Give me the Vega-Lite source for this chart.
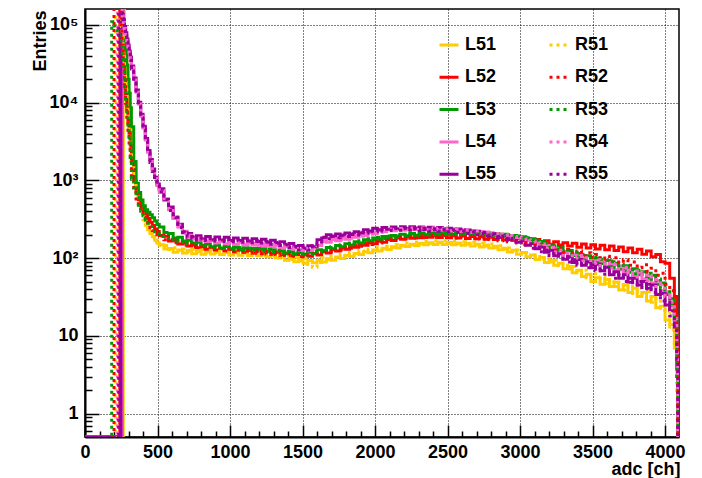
{
"$schema": "https://vega.github.io/schema/vega-lite/v6.json",
"width": 594, "height": 428,
"autosize": {"type": "none"},
"padding": {"left": 85, "top": 9, "right": 23, "bottom": 41},
"background": "white",
"config": {"view": {"stroke": "#000", "strokeWidth": 1.5}, "font": "Liberation Sans"},
"data": {"values": [
{"x":0,"L51":0.5,"L52":0.5,"L53":0.5,"L54":0.5,"L55":0.5,"R51":0.5,"R52":0.5,"R53":0.5,"R54":0.5,"R55":0.5},
{"x":184,"L51":0.5,"L52":0.5,"L53":0.5,"L54":0.5,"L55":0.5,"R51":0.5,"R52":0.5,"R53":110000,"R54":0.5,"R55":0.5},
{"x":192,"L51":0.5,"L52":0.5,"L53":0.5,"L54":0.5,"L55":0.5,"R51":0.5,"R52":0.5,"R53":104000,"R54":0.5,"R55":0.5},
{"x":200,"L51":0.5,"L52":0.5,"L53":0.5,"L54":0.5,"L55":0.5,"R51":0.5,"R52":210000,"R53":97000,"R54":0.5,"R55":0.5},
{"x":208,"L51":0.5,"L52":0.5,"L53":0.5,"L54":0.5,"L55":0.5,"R51":125000,"R52":205000,"R53":92000,"R54":0.5,"R55":0.5},
{"x":216,"L51":0.5,"L52":0.5,"L53":0.5,"L54":0.5,"L55":0.5,"R51":122000,"R52":200000,"R53":88000,"R54":0.5,"R55":0.5},
{"x":224,"L51":0.5,"L52":0.5,"L53":0.5,"L54":0.5,"L55":0.5,"R51":118000,"R52":190000,"R53":84000,"R54":260000,"R55":0.5},
{"x":232,"L51":0.5,"L52":0.5,"L53":0.5,"L54":0.5,"L55":0.5,"R51":114000,"R52":175000,"R53":78000,"R54":250000,"R55":220000},
{"x":240,"L51":0.5,"L52":260000,"L53":0.5,"L54":0.5,"L55":0.5,"R51":108000,"R52":150000,"R53":70000,"R54":240000,"R55":210000},
{"x":248,"L51":0.5,"L52":140000,"L53":0.5,"L54":0.5,"L55":300000,"R51":95000,"R52":100000,"R53":56000,"R54":220000,"R55":200000},
{"x":256,"L51":0.5,"L52":68000,"L53":175000,"L54":240000,"L55":137000,"R51":72000,"R52":55000,"R53":39000,"R54":130000,"R55":128000},
{"x":264,"L51":250000,"L52":37000,"L53":118000,"L54":110000,"L55":113000,"R51":44000,"R52":30000,"R53":25500,"R54":107000,"R55":104000},
{"x":272,"L51":95000,"L52":20500,"L53":74000,"L54":92000,"L55":95000,"R51":25000,"R52":16500,"R53":16000,"R54":90000,"R55":87000},
{"x":280,"L51":46000,"L52":12800,"L53":47000,"L54":77000,"L55":79000,"R51":14500,"R52":9800,"R53":10500,"R54":75000,"R55":72000},
{"x":288,"L51":24500,"L52":8600,"L53":30500,"L54":64000,"L55":66000,"R51":8700,"R52":6100,"R53":7000,"R54":62000,"R55":60000},
{"x":296,"L51":14200,"L52":5900,"L53":20000,"L54":53000,"L55":55000,"R51":5300,"R52":4000,"R53":4600,"R54":52000,"R55":50000},
{"x":304,"L51":8600,"L52":4100,"L53":13200,"L54":44500,"L55":46000,"R51":3500,"R52":2700,"R53":3100,"R54":43000,"R55":42000},
{"x":312,"L51":5600,"L52":2850,"L53":8600,"L54":37000,"L55":38700,"R51":2350,"R52":1800,"R53":1750,"R54":36000,"R55":35000},
{"x":320,"L51":3100,"L52":1750,"L53":4900,"L54":28500,"L55":29600,"R51":1450,"R52":1120,"R53":1050,"R54":28000,"R55":27000},
{"x":336,"L51":1550,"L52":980,"L53":1750,"L54":20000,"L55":20700,"R51":860,"R52":710,"R53":800,"R54":19500,"R55":19000},
{"x":352,"L51":920,"L52":720,"L53":920,"L54":14000,"L55":14500,"R51":610,"R52":545,"R53":600,"R54":13600,"R55":13200},
{"x":368,"L51":630,"L52":565,"L53":700,"L54":9800,"L55":10100,"R51":465,"R52":445,"R53":480,"R54":9600,"R55":9200},
{"x":384,"L51":465,"L52":470,"L53":560,"L54":6900,"L55":7100,"R51":375,"R52":380,"R53":400,"R54":6700,"R55":6500},
{"x":400,"L51":365,"L52":410,"L53":470,"L54":4800,"L55":4950,"R51":312,"R52":338,"R53":350,"R54":4700,"R55":4500},
{"x":416,"L51":300,"L52":375,"L53":420,"L54":3350,"L55":3450,"R51":265,"R52":300,"R53":310,"R54":3300,"R55":3150},
{"x":432,"L51":250,"L52":322,"L53":390,"L54":2350,"L55":2420,"R51":232,"R52":272,"R53":280,"R54":2300,"R55":2200},
{"x":448,"L51":215,"L52":290,"L53":360,"L54":1800,"L55":1850,"R51":207,"R52":246,"R53":255,"R54":1750,"R55":1700},
{"x":464,"L51":190,"L52":262,"L53":330,"L54":1380,"L55":1400,"R51":186,"R52":226,"R53":236,"R54":1350,"R55":1300},
{"x":480,"L51":170,"L52":236,"L53":300,"L54":1080,"L55":1100,"R51":171,"R52":211,"R53":219,"R54":1060,"R55":1020},
{"x":496,"L51":156,"L52":220,"L53":270,"L54":880,"L55":900,"R51":159,"R52":199,"R53":206,"R54":860,"R55":830},
{"x":512,"L51":148,"L52":196,"L53":251,"L54":700,"L55":782,"R51":146,"R52":193,"R53":190,"R54":742,"R55":715},
{"x":544,"L51":131,"L52":191,"L53":214,"L54":575,"L55":561,"R51":145,"R52":172,"R53":189,"R54":548,"R55":570},
{"x":576,"L51":133,"L52":166,"L53":207,"L54":418,"L55":455,"R51":129,"R52":173,"R53":171,"R54":441,"R55":410},
{"x":608,"L51":119,"L52":170,"L53":181,"L54":338,"L55":329,"R51":136,"R52":158,"R53":176,"R54":322,"R55":335},
{"x":640,"L51":127,"L52":152,"L53":185,"L54":252,"L55":273,"R51":124,"R52":162,"R53":160,"R54":267,"R55":248},
{"x":672,"L51":116,"L52":157,"L53":166,"L54":221,"L55":212,"R51":131,"R52":147,"R53":166,"R54":209,"R55":218},
{"x":704,"L51":125,"L52":143,"L53":170,"L54":186,"L55":207,"R51":121,"R52":153,"R53":152,"R54":197,"R55":186},
{"x":736,"L51":114,"L52":149,"L53":155,"L54":188,"L55":183,"R51":129,"R52":139,"R53":165,"R54":176,"R55":189},
{"x":768,"L51":122,"L52":136,"L53":160,"L54":170,"L55":194,"R51":119,"R52":145,"R53":150,"R54":181,"R55":172},
{"x":800,"L51":112,"L52":141,"L53":146,"L54":177,"L55":176,"R51":127,"R52":132,"R53":155,"R54":166,"R55":183},
{"x":832,"L51":121,"L52":130,"L53":152,"L54":163,"L55":189,"R51":117,"R52":139,"R53":142,"R54":172,"R55":168},
{"x":864,"L51":113,"L52":136,"L53":140,"L54":170,"L55":172,"R51":126,"R52":128,"R53":149,"R54":161,"R55":179},
{"x":896,"L51":119,"L52":127,"L53":146,"L54":157,"L55":187,"R51":116,"R52":134,"R53":137,"R54":167,"R55":166},
{"x":928,"L51":111,"L52":132,"L53":135,"L54":165,"L55":171,"R51":125,"R52":124,"R53":143,"R54":155,"R55":177},
{"x":960,"L51":118,"L52":123,"L53":141,"L54":153,"L55":185,"R51":115,"R52":131,"R53":133,"R54":163,"R55":164},
{"x":992,"L51":110,"L52":129,"L53":132,"L54":161,"L55":169,"R51":124,"R52":121,"R53":139,"R54":151,"R55":174},
{"x":1024,"L51":117,"L52":121,"L53":138,"L54":150,"L55":182,"R51":114,"R52":128,"R53":130,"R54":159,"R55":162},
{"x":1056,"L51":109,"L52":127,"L53":129,"L54":158,"L55":168,"R51":123,"R52":119,"R53":137,"R54":150,"R55":172},
{"x":1088,"L51":116,"L52":118,"L53":136,"L54":149,"L55":180,"R51":113,"R52":126,"R53":128,"R54":157,"R55":160},
{"x":1120,"L51":108,"L52":125,"L53":127,"L54":156,"L55":166,"R51":122,"R52":117,"R53":135,"R54":148,"R55":170},
{"x":1152,"L51":115,"L52":116,"L53":134,"L54":147,"L55":178,"R51":112,"R52":124,"R53":126,"R54":155,"R55":158},
{"x":1184,"L51":107,"L52":123,"L53":126,"L54":154,"L55":164,"R51":120,"R52":115,"R53":133,"R54":146,"R55":168},
{"x":1216,"L51":113,"L52":114,"L53":132,"L54":144,"L55":175,"R51":110,"R52":122,"R53":124,"R54":152,"R55":156},
{"x":1248,"L51":104,"L52":121,"L53":122,"L54":150,"L55":160,"R51":116,"R52":113,"R53":130,"R54":142,"R55":164},
{"x":1280,"L51":109,"L52":112,"L53":128,"L54":140,"L55":170,"R51":106,"R52":120,"R53":120,"R54":148,"R55":151},
{"x":1312,"L51":100,"L52":119,"L53":118,"L54":146,"L55":155,"R51":112,"R52":111,"R53":126,"R54":138,"R55":159},
{"x":1344,"L51":105,"L52":109,"L53":124,"L54":135,"L55":162,"R51":102,"R52":117,"R53":116,"R54":144,"R55":145},
{"x":1376,"L51":94,"L52":116,"L53":114,"L54":141,"L55":147,"R51":106,"R52":108,"R53":122,"R54":133,"R55":151},
{"x":1408,"L51":99,"L52":107,"L53":121,"L54":130,"L55":154,"R51":96,"R52":114,"R53":113,"R54":138,"R55":137},
{"x":1440,"L51":90,"L52":113,"L53":112,"L54":135,"L55":138,"R51":102,"R52":106,"R53":120,"R54":127,"R55":142},
{"x":1472,"L51":95,"L52":105,"L53":118,"L54":125,"L55":145,"R51":92,"R52":112,"R53":111,"R54":133,"R55":128},
{"x":1504,"L51":86,"L52":112,"L53":110,"L54":132,"L55":132,"R51":98,"R52":104,"R53":117,"R54":124,"R55":136},
{"x":1536,"L51":93,"L52":106,"L53":119,"L54":125,"L55":144,"R51":83,"R52":114,"R53":111,"R54":133,"R55":127},
{"x":1568,"L51":87,"L52":115,"L53":114,"L54":139,"L55":140,"R51":76,"R52":108,"R53":122,"R54":131,"R55":144},
{"x":1600,"L51":94,"L52":110,"L53":128,"L54":145,"L55":172,"R51":88,"R52":118,"R53":120,"R54":154,"R55":152},
{"x":1632,"L51":89,"L52":121,"L53":124,"L54":164,"L55":182,"R51":101,"R52":113,"R53":132,"R54":156,"R55":186},
{"x":1664,"L51":98,"L52":116,"L53":137,"L54":160,"L55":199,"R51":95,"R52":124,"R53":128,"R54":170,"R55":178},
{"x":1696,"L51":94,"L52":128,"L53":132,"L54":173,"L55":189,"R51":106,"R52":120,"R53":140,"R54":164,"R55":193},
{"x":1728,"L51":103,"L52":123,"L53":145,"L54":167,"L55":204,"R51":100,"R52":131,"R53":135,"R54":177,"R55":183},
{"x":1760,"L51":99,"L52":135,"L53":140,"L54":181,"L55":194,"R51":111,"R52":127,"R53":149,"R54":171,"R55":198},
{"x":1792,"L51":109,"L52":130,"L53":153,"L54":175,"L55":210,"R51":106,"R52":138,"R53":144,"R54":185,"R55":189},
{"x":1824,"L51":105,"L52":142,"L53":147,"L54":190,"L55":201,"R51":117,"R52":134,"R53":157,"R54":180,"R55":205},
{"x":1856,"L51":115,"L52":138,"L53":162,"L54":185,"L55":219,"R51":112,"R52":146,"R53":152,"R54":196,"R55":198},
{"x":1888,"L51":111,"L52":150,"L53":157,"L54":201,"L55":211,"R51":124,"R52":142,"R53":167,"R54":191,"R55":215},
{"x":1920,"L51":121,"L52":146,"L53":172,"L54":196,"L55":231,"R51":119,"R52":154,"R53":162,"R54":208,"R55":209},
{"x":1952,"L51":117,"L52":158,"L53":167,"L54":213,"L55":223,"R51":130,"R52":150,"R53":177,"R54":203,"R55":228},
{"x":1984,"L51":127,"L52":153,"L53":181,"L54":208,"L55":243,"R51":125,"R52":161,"R53":171,"R54":220,"R55":219},
{"x":2016,"L51":123,"L52":165,"L53":175,"L54":226,"L55":231,"R51":136,"R52":157,"R53":185,"R54":214,"R55":235},
{"x":2048,"L51":134,"L52":160,"L53":190,"L54":218,"L55":248,"R51":131,"R52":170,"R53":179,"R54":230,"R55":223},
{"x":2080,"L51":129,"L52":174,"L53":183,"L54":234,"L55":235,"R51":142,"R52":164,"R53":193,"R54":222,"R55":240},
{"x":2112,"L51":140,"L52":168,"L53":196,"L54":225,"L55":251,"R51":137,"R52":178,"R53":186,"R54":237,"R55":226},
{"x":2144,"L51":135,"L52":182,"L53":189,"L54":239,"L55":237,"R51":149,"R52":172,"R53":199,"R54":227,"R55":242},
{"x":2176,"L51":146,"L52":175,"L53":202,"L54":229,"L55":253,"R51":143,"R52":185,"R53":192,"R54":241,"R55":228},
{"x":2208,"L51":141,"L52":188,"L53":194,"L54":243,"L55":238,"R51":156,"R52":178,"R53":205,"R54":231,"R55":243},
{"x":2240,"L51":151,"L52":180,"L53":207,"L54":232,"L55":254,"R51":148,"R52":190,"R53":196,"R54":244,"R55":228},
{"x":2272,"L51":145,"L52":192,"L53":197,"L54":245,"L55":236,"R51":160,"R52":182,"R53":208,"R54":233,"R55":242},
{"x":2304,"L51":155,"L52":183,"L53":209,"L54":233,"L55":252,"R51":152,"R52":194,"R53":198,"R54":246,"R55":226},
{"x":2336,"L51":148,"L52":195,"L53":199,"L54":245,"L55":234,"R51":164,"R52":184,"R53":210,"R54":233,"R55":240},
{"x":2368,"L51":158,"L52":185,"L53":211,"L54":232,"L55":250,"R51":155,"R52":196,"R53":200,"R54":245,"R55":224},
{"x":2400,"L51":150,"L52":196,"L53":199,"L54":243,"L55":232,"R51":167,"R52":185,"R53":211,"R54":231,"R55":238},
{"x":2432,"L51":160,"L52":184,"L53":212,"L54":230,"L55":247,"R51":156,"R52":196,"R53":201,"R54":243,"R55":221},
{"x":2464,"L51":150,"L52":196,"L53":200,"L54":240,"L55":229,"R51":167,"R52":184,"R53":212,"R54":228,"R55":235},
{"x":2496,"L51":159,"L52":183,"L53":213,"L54":226,"L55":243,"R51":155,"R52":195,"R53":201,"R54":239,"R55":218},
{"x":2528,"L51":148,"L52":194,"L53":201,"L54":236,"L55":225,"R51":165,"R52":182,"R53":213,"R54":224,"R55":231},
{"x":2560,"L51":157,"L52":181,"L53":213,"L54":222,"L55":237,"R51":153,"R52":193,"R53":201,"R54":235,"R55":214},
{"x":2592,"L51":146,"L52":192,"L53":202,"L54":232,"L55":219,"R51":162,"R52":180,"R53":214,"R54":220,"R55":224},
{"x":2624,"L51":155,"L52":179,"L53":214,"L54":217,"L55":230,"R51":151,"R52":191,"R53":202,"R54":230,"R55":207},
{"x":2656,"L51":143,"L52":190,"L53":201,"L54":226,"L55":211,"R51":160,"R52":178,"R53":213,"R54":214,"R55":216},
{"x":2688,"L51":151,"L52":177,"L53":213,"L54":211,"L55":222,"R51":147,"R52":189,"R53":201,"R54":223,"R55":199},
{"x":2720,"L51":139,"L52":188,"L53":200,"L54":220,"L55":203,"R51":156,"R52":176,"R53":212,"R54":208,"R55":208},
{"x":2752,"L51":147,"L52":175,"L53":211,"L54":204,"L55":214,"R51":143,"R52":187,"R53":199,"R54":216,"R55":192},
{"x":2784,"L51":135,"L52":186,"L53":198,"L54":212,"L55":195,"R51":152,"R52":174,"R53":210,"R54":200,"R55":200},
{"x":2816,"L51":142,"L52":173,"L53":208,"L54":196,"L55":205,"R51":137,"R52":182,"R53":196,"R54":208,"R55":183},
{"x":2848,"L51":128,"L52":184,"L53":194,"L54":204,"L55":185,"R51":144,"R52":167,"R53":206,"R54":192,"R55":190},
{"x":2880,"L51":134,"L52":171,"L53":203,"L54":188,"L55":194,"R51":129,"R52":176,"R53":191,"R54":200,"R55":173},
{"x":2912,"L51":120,"L52":183,"L53":188,"L54":195,"L55":173,"R51":135,"R52":162,"R53":200,"R54":183,"R55":179},
{"x":2944,"L51":126,"L52":170,"L53":196,"L54":178,"L55":182,"R51":121,"R52":171,"R53":184,"R54":190,"R55":161},
{"x":2976,"L51":112,"L52":181,"L53":180,"L54":184,"L55":160,"R51":127,"R52":156,"R53":192,"R54":172,"R55":166},
{"x":3008,"L51":118,"L52":168,"L53":188,"L54":166,"L55":168,"R51":113,"R52":164,"R53":176,"R54":178,"R55":148},
{"x":3040,"L51":104,"L52":179,"L53":171,"L54":172,"L55":146,"R51":118,"R52":148,"R53":183,"R54":160,"R55":153},
{"x":3072,"L51":110,"L52":163,"L53":177,"L54":154,"L55":154,"R51":104,"R52":156,"R53":165,"R54":166,"R55":134},
{"x":3104,"L51":96,"L52":173,"L53":158,"L54":159,"L55":132,"R51":110,"R52":140,"R53":170,"R54":147,"R55":139},
{"x":3136,"L51":102,"L52":157,"L53":163,"L54":140,"L55":139,"R51":96,"R52":149,"R53":151,"R54":152,"R55":121},
{"x":3168,"L51":88,"L52":167,"L53":144,"L54":145,"L55":119,"R51":102,"R52":134,"R53":156,"R54":133,"R55":126},
{"x":3200,"L51":94,"L52":151,"L53":149,"L54":126,"L55":126,"R51":89,"R52":143,"R53":137,"R54":138,"R55":108},
{"x":3232,"L51":81,"L52":162,"L53":131,"L54":132,"L55":107,"R51":94,"R52":127,"R53":143,"R54":120,"R55":114},
{"x":3264,"L51":86,"L52":147,"L53":137,"L54":114,"L55":114,"R51":80,"R52":136,"R53":125,"R54":126,"R55":98},
{"x":3296,"L51":73,"L52":158,"L53":119,"L54":121,"L55":97,"R51":86,"R52":121,"R53":131,"R54":109,"R55":104},
{"x":3328,"L51":78,"L52":143,"L53":125,"L54":104,"L55":104,"R51":72,"R52":129,"R53":113,"R54":116,"R55":89},
{"x":3360,"L51":65,"L52":155,"L53":108,"L54":112,"L55":88,"R51":78,"R52":114,"R53":120,"R54":100,"R55":95},
{"x":3392,"L51":70,"L52":138,"L53":115,"L54":96,"L55":96,"R51":64,"R52":123,"R53":103,"R54":108,"R55":81},
{"x":3424,"L51":58,"L52":152,"L53":99,"L54":104,"L55":81,"R51":70,"R52":108,"R53":111,"R54":92,"R55":88},
{"x":3456,"L51":62,"L52":135,"L53":107,"L54":89,"L55":90,"R51":56,"R52":117,"R53":95,"R54":101,"R55":75},
{"x":3488,"L51":50,"L52":149,"L53":91,"L54":98,"L55":75,"R51":63,"R52":102,"R53":103,"R54":86,"R55":82},
{"x":3520,"L51":56,"L52":131,"L53":100,"L54":83,"L55":84,"R51":51,"R52":111,"R53":88,"R54":95,"R55":69},
{"x":3552,"L51":46,"L52":146,"L53":85,"L54":92,"L55":69,"R51":57,"R52":97,"R53":97,"R54":80,"R55":76},
{"x":3584,"L51":53,"L52":128,"L53":93,"L54":77,"L55":76,"R51":47,"R52":106,"R53":81,"R54":88,"R55":62},
{"x":3616,"L51":43,"L52":143,"L53":78,"L54":85,"L55":61,"R51":53,"R52":92,"R53":90,"R54":74,"R55":68},
{"x":3648,"L51":49,"L52":125,"L53":86,"L54":71,"L55":67,"R51":43,"R52":101,"R53":75,"R54":82,"R55":55},
{"x":3680,"L51":39,"L52":139,"L53":72,"L54":79,"L55":55,"R51":49,"R52":87,"R53":83,"R54":68,"R55":61},
{"x":3712,"L51":45,"L52":121,"L53":80,"L54":65,"L55":61,"R51":39,"R52":95,"R53":69,"R54":76,"R55":50},
{"x":3744,"L51":36,"L52":135,"L53":66,"L54":72,"L55":49,"R51":45,"R52":81,"R53":77,"R54":62,"R55":55},
{"x":3776,"L51":41,"L52":117,"L53":73,"L54":60,"L55":55,"R51":35,"R52":89,"R53":63,"R54":69,"R55":45},
{"x":3808,"L51":32,"L52":130,"L53":61,"L54":66,"L55":45,"R51":41,"R52":75,"R53":70,"R54":57,"R55":50},
{"x":3840,"L51":36,"L52":112,"L53":67,"L54":54,"L55":50,"R51":32,"R52":82,"R53":58,"R54":63,"R55":40},
{"x":3872,"L51":28,"L52":123,"L53":55,"L54":60,"L55":41,"R51":37,"R52":68,"R53":64,"R54":51,"R55":46},
{"x":3904,"L51":32,"L52":104,"L53":60,"L54":48,"L55":45,"R51":27,"R52":74,"R53":51,"R54":57,"R55":36},
{"x":3936,"L51":23,"L52":111,"L53":46,"L54":51,"L55":34,"R51":30,"R52":60,"R53":54,"R54":43,"R55":38},
{"x":3968,"L51":24,"L52":90,"L53":48,"L54":38,"L55":35,"R51":21,"R52":64,"R53":41,"R54":45,"R55":28},
{"x":4000,"L51":16,"L52":86,"L53":34,"L54":37,"L55":25,"R51":20,"R52":46,"R53":39,"R54":32,"R55":27},
{"x":4032,"L51":14,"L52":55,"L53":30,"L54":24,"L55":21,"R51":12,"R52":38,"R53":26,"R54":27,"R55":18},
{"x":4064,"L51":7,"L52":32,"L53":16,"L54":18,"L55":12,"R51":8,"R52":19,"R53":18,"R54":16,"R55":13},
{"x":4080,"L51":3,"L52":12,"L53":4,"L54":7,"L55":6,"R51":2,"R52":7,"R53":3,"R54":6,"R55":5},
{"x":4088,"L51":0.5,"L52":0.5,"L53":0.5,"L54":0.5,"L55":0.5,"R51":0.5,"R52":0.5,"R53":0.5,"R54":0.5,"R55":0.5},
{"x":4096,"L51":0.5,"L52":0.5,"L53":0.5,"L54":0.5,"L55":0.5,"R51":0.5,"R52":0.5,"R53":0.5,"R54":0.5,"R55":0.5}
]},
"transform": [{"fold": ["L51","L52","L53","L54","L55","R51","R52","R53","R54","R55"], "as": ["series","y"]}],
"mark": {"type": "line", "interpolate": "step-after", "strokeWidth": 3, "clip": true, "strokeCap": "butt"},
"encoding": {
  "x": {"field": "x", "type": "quantitative",
    "scale": {"domain": [0, 4096], "nice": false, "zero": false},
    "axis": {"values": [0,100,200,300,400,500,600,700,800,900,1000,1100,1200,1300,1400,1500,1600,1700,1800,1900,2000,2100,2200,2300,2400,2500,2600,2700,2800,2900,3000,3100,3200,3300,3400,3500,3600,3700,3800,3900,4000],
      "format": "d",
      "labelExpr": "datum.value % 500 == 0 ? datum.label : ''",
      "tickSize": {"condition": {"test": "datum.value % 500 == 0", "value": -12}, "value": -6},
      "tickColor": "#000", "tickWidth": 1.5,
      "grid": true, "gridColor": "#000", "gridDash": [1,2], "gridWidth": 1,
      "gridOpacity": {"condition": {"test": "datum.value % 500 == 0 && datum.value > 0", "value": 1}, "value": 0},
      "labelFont": "Liberation Sans", "labelFontSize": 18, "labelFontWeight": "bold", "labelColor": "#000",
      "labelPadding": 18, "labelFlush": false, "labelOverlap": false,
      "domainColor": "#000", "domainWidth": 2,
      "title": "adc [ch]", "titleFont": "Liberation Sans", "titleFontSize": 18, "titleFontWeight": "bold", "titleColor": "#000",
      "titleX": 595, "titleY": 37.5, "titleAlign": "right", "titleBaseline": "alphabetic"}},
  "y": {"field": "y", "type": "quantitative",
    "scale": {"type": "log", "domain": [0.5, 160000], "nice": false},
    "axis": {"values": [0.6,0.7,0.8,0.9,1,2,3,4,5,6,7,8,9,10,20,30,40,50,60,70,80,90,100,200,300,400,500,600,700,800,900,1000,2000,3000,4000,5000,6000,7000,8000,9000,10000,20000,30000,40000,50000,60000,70000,80000,90000,100000],
      "labelExpr": "datum.value == 1 ? '1' : datum.value == 10 ? '10' : datum.value == 100 ? '10²' : datum.value == 1000 ? '10³' : datum.value == 10000 ? '10⁴' : datum.value == 100000 ? '10⁵' : ''",
      "tickSize": {"condition": {"test": "indexof([1,10,100,1000,10000,100000], datum.value) >= 0", "value": -14}, "value": -7},
      "tickColor": "#000", "tickWidth": 1.5,
      "grid": true, "gridColor": "#000", "gridDash": [1,2], "gridWidth": 1,
      "gridOpacity": {"condition": {"test": "indexof([1,10,100,1000,10000,100000], datum.value) >= 0", "value": 1}, "value": 0},
      "labelFont": "Liberation Sans", "labelFontSize": 18, "labelFontWeight": "bold", "labelColor": "#000",
      "labelPadding": 21, "labelOverlap": false, "labelFlush": false,
      "domainColor": "#000", "domainWidth": 2,
      "title": "Entries", "titleFont": "Liberation Sans", "titleFontSize": 18, "titleFontWeight": "bold", "titleColor": "#000",
      "titleX": -40, "titleY": 1, "titleAlign": "right", "titleBaseline": "alphabetic", "titleAngle": 270}},
  "color": {"field": "series", "type": "nominal",
    "scale": {"domain": ["L51","L52","L53","L54","L55","R51","R52","R53","R54","R55"],
              "range": ["#FFCC00","#FF0000","#009900","#FF66CC","#990099","#FFCC00","#FF0000","#009900","#FF66CC","#990099"]},
    "legend": {"title": null, "orient": "none", "legendX": 353, "legendY": 25, "columns": 2, "symbolType": "stroke", "symbolSize": 361, "symbolStrokeWidth": 3,
      "labelFont": "Liberation Sans", "labelFontSize": 18, "labelFontWeight": "bold", "labelColor": "#000", "labelOffset": 5, "rowPadding": 12.3, "columnPadding": 46, "padding": 0}},
  "strokeDash": {"field": "series", "type": "nominal",
    "scale": {"domain": ["L51","L52","L53","L54","L55","R51","R52","R53","R54","R55"],
              "range": [[1,0],[1,0],[1,0],[1,0],[1,0],[3,4],[3,4],[3,4],[3,4],[3,4]]},
    "legend": {"title": null, "orient": "none", "legendX": 353, "legendY": 25, "columns": 2, "symbolType": "stroke", "symbolSize": 361, "symbolStrokeWidth": 3,
      "labelFont": "Liberation Sans", "labelFontSize": 18, "labelFontWeight": "bold", "labelColor": "#000", "labelOffset": 5, "rowPadding": 12.3, "columnPadding": 46, "padding": 0}}
}
}
